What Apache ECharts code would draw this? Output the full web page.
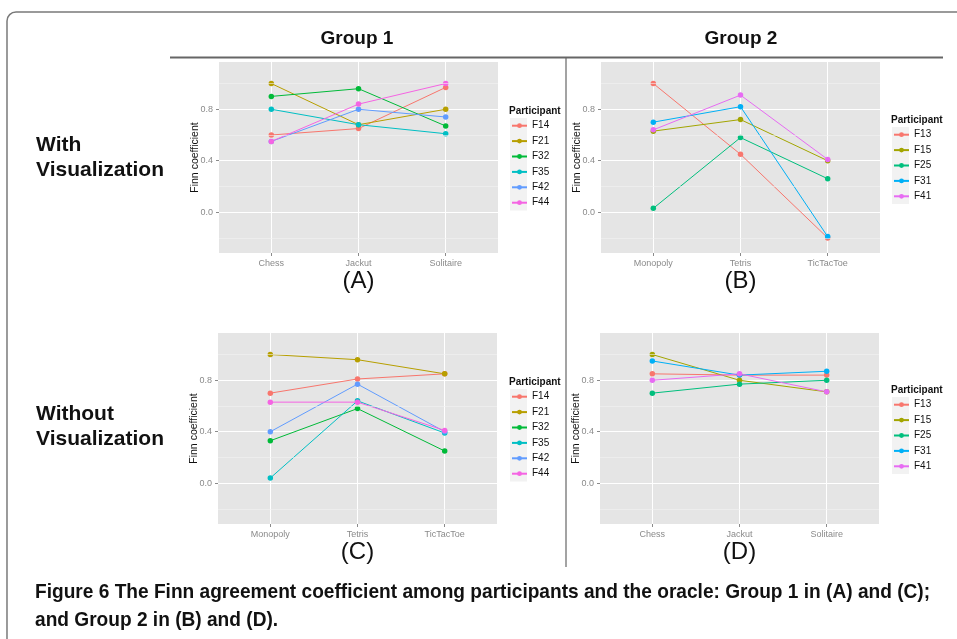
<!DOCTYPE html>
<html>
<head>
<meta charset="utf-8">
<title>Finn agreement coefficient</title>
<script src="https://cdn.jsdelivr.net/npm/echarts@6/dist/echarts.min.js"></script>
<style>
  html, body { margin: 0; padding: 0; background: #ffffff; }
  #chart { width: 957px; height: 639px; }
</style>
</head>
<body>
<div id="chart"></div>
<script>
// Games played in each session
const gamesSet1 = ['Chess', 'Jackut', 'Solitaire'];
const gamesSet2 = ['Monopoly', 'Tetris', 'TicTacToe'];

// Participants of each group
const group1Ids = ['F14', 'F21', 'F32', 'F35', 'F42', 'F44'];
const group2Ids = ['F13', 'F15', 'F25', 'F31', 'F41'];

// Default ggplot hue palettes for 6 and 5 levels
const hue6 = ['#F8766D', '#B79F00', '#00BA38', '#00BFC4', '#619CFF', '#F564E3'];
const hue5 = ['#F8766D', '#A3A500', '#00BF7D', '#00B0F6', '#E76BF3'];

// Finn coefficient, one row per participant, one value per game
// (A) Group 1, with visualization: Chess, Jackut, Solitaire
const panelA = [
  [0.60, 0.65, 0.97],
  [1.00, 0.68, 0.80],
  [0.90, 0.96, 0.67],
  [0.80, 0.68, 0.61],
  [0.55, 0.80, 0.74],
  [0.55, 0.84, 1.00]
];
// (B) Group 2, with visualization: Monopoly, Tetris, TicTacToe
const panelB = [
  [1.00, 0.45, -0.20],
  [0.63, 0.72, 0.40],
  [0.03, 0.58, 0.26],
  [0.70, 0.82, -0.19],
  [0.64, 0.91, 0.41]
];
// (C) Group 1, without visualization: Monopoly, Tetris, TicTacToe
const panelC = [
  [0.70, 0.81, 0.85],
  [1.00, 0.96, 0.85],
  [0.33, 0.58, 0.25],
  [0.04, 0.64, 0.39],
  [0.40, 0.77, 0.40],
  [0.63, 0.63, 0.41]
];
// (D) Group 2, without visualization: Chess, Jackut, Solitaire
const panelD = [
  [0.85, 0.84, 0.84],
  [1.00, 0.80, 0.71],
  [0.70, 0.77, 0.80],
  [0.95, 0.84, 0.87],
  [0.80, 0.85, 0.71]
];

// Axis ticks
const yMajorTicks = [0, 0.4, 0.8];
const yMinorTicks = [-0.2, 0.2, 0.6, 1.0];
const xPositions = [1, 2, 3];

const FONT = "'Liberation Sans', Arial, sans-serif";
const TICK_GREY = '#8a8a8a';

const panels = [
  { key: 'A', games: gamesSet1, ids: group1Ids, colors: hue6, values: panelA,
    grid: { left: 219, top: 62, width: 279, height: 191 }, legendX: 511, legendY: 118 },
  { key: 'B', games: gamesSet2, ids: group2Ids, colors: hue5, values: panelB,
    grid: { left: 601, top: 62, width: 279, height: 191 }, legendX: 893, legendY: 127 },
  { key: 'C', games: gamesSet2, ids: group1Ids, colors: hue6, values: panelC,
    grid: { left: 218, top: 333, width: 279, height: 191 }, legendX: 511, legendY: 389 },
  { key: 'D', games: gamesSet1, ids: group2Ids, colors: hue5, values: panelD,
    grid: { left: 600, top: 333, width: 279, height: 191 }, legendX: 893, legendY: 397 }
];

const grids = [], xAxes = [], yAxes = [], series = [], legends = [], graphics = [];

panels.forEach((p, pi) => {
  grids.push(Object.assign({
    show: true, backgroundColor: '#E5E5E5', borderWidth: 0
  }, p.grid));

  xAxes.push({
    type: 'value', gridIndex: pi, min: 0.4, max: 3.6,
    axisLine: { show: false, onZero: false },
    axisTick: { show: true, customValues: xPositions, length: 3,
      lineStyle: { color: TICK_GREY, width: 1 } },
    axisLabel: { customValues: xPositions, margin: 6, color: TICK_GREY,
      fontSize: 9, fontFamily: FONT,
      formatter: v => p.games[Math.round(v) - 1] },
    splitLine: { show: true, lineStyle: { color: '#ffffff', width: 1 } }
  });

  yAxes.push({
    type: 'value', gridIndex: pi, min: -0.3175, max: 1.1675,
    axisLine: { show: false, onZero: false },
    axisTick: { show: true, customValues: yMajorTicks, length: 3,
      lineStyle: { color: TICK_GREY, width: 1 } },
    axisLabel: { customValues: yMajorTicks, margin: 6, color: TICK_GREY,
      fontSize: 9, fontFamily: FONT, formatter: v => v.toFixed(1) },
    splitLine: { show: true, lineStyle: { color: '#ffffff', width: 1 } }
  });

  // minor horizontal grid lines
  series.push({
    type: 'line', xAxisIndex: pi, yAxisIndex: pi, data: [], silent: true, z: 1,
    markLine: {
      silent: true, symbol: 'none', animation: false,
      label: { show: false },
      lineStyle: { color: '#F2F2F2', width: 0.6, type: 'solid' },
      data: yMinorTicks.map(v => ({ yAxis: v }))
    }
  });

  p.ids.forEach((id, i) => {
    series.push({
      type: 'line', name: id, xAxisIndex: pi, yAxisIndex: pi, z: 3,
      symbol: 'circle', symbolSize: 5.5, showSymbol: true,
      data: p.values[i].map((v, j) => [xPositions[j], v]),
      itemStyle: { color: p.colors[i] },
      lineStyle: { color: p.colors[i], width: 1 },
      emphasis: { disabled: true },
      animation: false
    });
  });

  legends.push({
    orient: 'vertical', left: p.legendX, top: p.legendY, padding: 0,
    data: p.ids, itemWidth: 15, itemHeight: 6, itemGap: 0,
    selectedMode: false,
    textStyle: { fontSize: 10, fontFamily: FONT, color: '#111', lineHeight: 15.4 }
  });
  // legend key backing
  graphics.push({
    type: 'rect', silent: true, z: -1,
    shape: { x: p.legendX - 1, y: p.legendY, width: 17, height: p.ids.length * 15.4 },
    style: { fill: '#F2F2F2' }
  });
  graphics.push({
    type: 'text', left: p.legendX - 2, top: p.legendY - 12,
    style: { text: 'Participant', font: 'bold 10px ' + FONT, fill: '#111' }
  });

  // y axis title
  graphics.push({
    type: 'text', x: p.grid.left - 24, y: p.grid.top + p.grid.height / 2,
    rotation: Math.PI / 2,
    style: { text: 'Finn coefficient', font: '10.5px ' + FONT, fill: '#111',
      align: 'center', verticalAlign: 'middle' }
  });
  // panel tag
  graphics.push({
    type: 'text', x: p.grid.left + p.grid.width / 2, y: p.grid.top + p.grid.height + 28,
    style: { text: '(' + p.key + ')', font: '24px ' + FONT, fill: '#111',
      align: 'center', verticalAlign: 'middle' }
  });
});

// Frame, headers, row labels and caption
graphics.push(
  { type: 'rect', silent: true,
    shape: { x: 7, y: 12, width: 1000, height: 700, r: 9 },
    style: { fill: null, stroke: '#7a7a7a', lineWidth: 1.5 } },
  { type: 'line', silent: true, shape: { x1: 170, y1: 57.5, x2: 943, y2: 57.5 },
    style: { stroke: '#666', lineWidth: 2 } },
  { type: 'line', silent: true, shape: { x1: 566, y1: 57.5, x2: 566, y2: 567 },
    style: { stroke: '#666', lineWidth: 1.2 } },
  { type: 'text', x: 357, y: 39,
    style: { text: 'Group 1', font: 'bold 19px ' + FONT, fill: '#111',
      align: 'center', verticalAlign: 'middle' } },
  { type: 'text', x: 741, y: 39,
    style: { text: 'Group 2', font: 'bold 19px ' + FONT, fill: '#111',
      align: 'center', verticalAlign: 'middle' } },
  { type: 'text', x: 36, y: 158,
    style: { text: 'With\nVisualization', font: 'bold 21px ' + FONT, fill: '#111',
      lineHeight: 25, align: 'left', verticalAlign: 'middle' } },
  { type: 'text', x: 36, y: 427,
    style: { text: 'Without\nVisualization', font: 'bold 21px ' + FONT, fill: '#111',
      lineHeight: 25, align: 'left', verticalAlign: 'middle' } },
  { type: 'text', x: 35, y: 592, scaleX: 0.91,
    style: { text: 'Figure 6 The Finn agreement coefficient among participants and the oracle: Group 1 in (A) and (C);',
      font: 'bold 21px ' + FONT, fill: '#111', align: 'left', verticalAlign: 'middle' } },
  { type: 'text', x: 35, y: 620, scaleX: 0.91,
    style: { text: 'and Group 2 in (B) and (D).',
      font: 'bold 21px ' + FONT, fill: '#111', align: 'left', verticalAlign: 'middle' } }
);

const chart = echarts.init(document.getElementById('chart'), null, { renderer: 'canvas' });
chart.setOption({
  backgroundColor: '#ffffff',
  animation: false,
  grid: grids,
  xAxis: xAxes,
  yAxis: yAxes,
  legend: legends,
  series: series,
  graphic: graphics
});
</script>
</body>
</html>
